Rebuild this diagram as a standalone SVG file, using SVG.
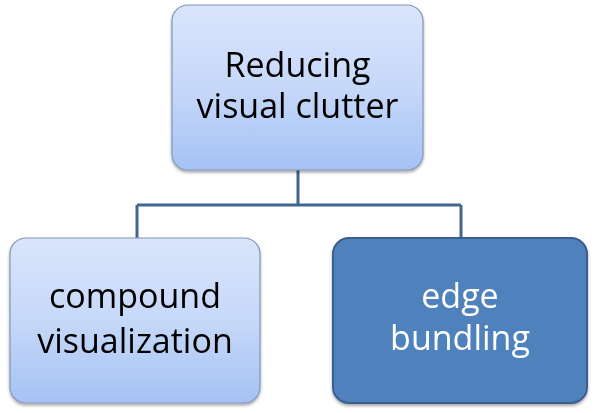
<svg xmlns="http://www.w3.org/2000/svg" width="596" height="413" viewBox="0 0 596 413">
<style>
.lt{fill:url(#g);stroke:#8297b8;stroke-width:1.2}
.dk{fill:#4f81bd;stroke:#3b5f8c;stroke-width:2}
.t{font-family:"Open Sans","Liberation Sans",Arial,sans-serif;font-size:34px;text-anchor:middle;fill:#000}
.tw{fill:#fff}
.c{fill:none;stroke:#41668f;stroke-width:3}
</style>
<defs>
<linearGradient id="g" x1="0" y1="0" x2="0" y2="1">
<stop offset="0" stop-color="#dae5fb"/>
<stop offset="0.5" stop-color="#c6d8f9"/>
<stop offset="1" stop-color="#a5c2f4"/>
</linearGradient>
<filter id="sh" x="-10%" y="-10%" width="120%" height="125%">
<feDropShadow dx="0" dy="2" stdDeviation="1.5" flood-color="#000" flood-opacity="0.35"/>
</filter>
</defs>
<g id="connectors">
<path class="c" d="M298 170 V205 M137 205 H461 M137 205 V238 M461 205 V238"/>
</g>
<g id="n1" filter="url(#sh)">
<rect class="lt" x="172" y="5" width="251" height="165" rx="16"/>
<text class="t" x="297.5" y="77">Reducing</text>
<text class="t" x="297.5" y="118">visual clutter</text>
</g>
<g id="n2" filter="url(#sh)">
<rect class="lt" x="10" y="238" width="250" height="165" rx="16"/>
<text class="t" x="135" y="308">compound</text>
<text class="t" x="135" y="353">visualization</text>
</g>
<g id="n3" filter="url(#sh)">
<rect class="dk" x="333" y="238" width="254" height="165" rx="16"/>
<text class="t tw" x="460" y="308">edge</text>
<text class="t tw" x="460" y="350">bundling</text>
</g>
</svg>
